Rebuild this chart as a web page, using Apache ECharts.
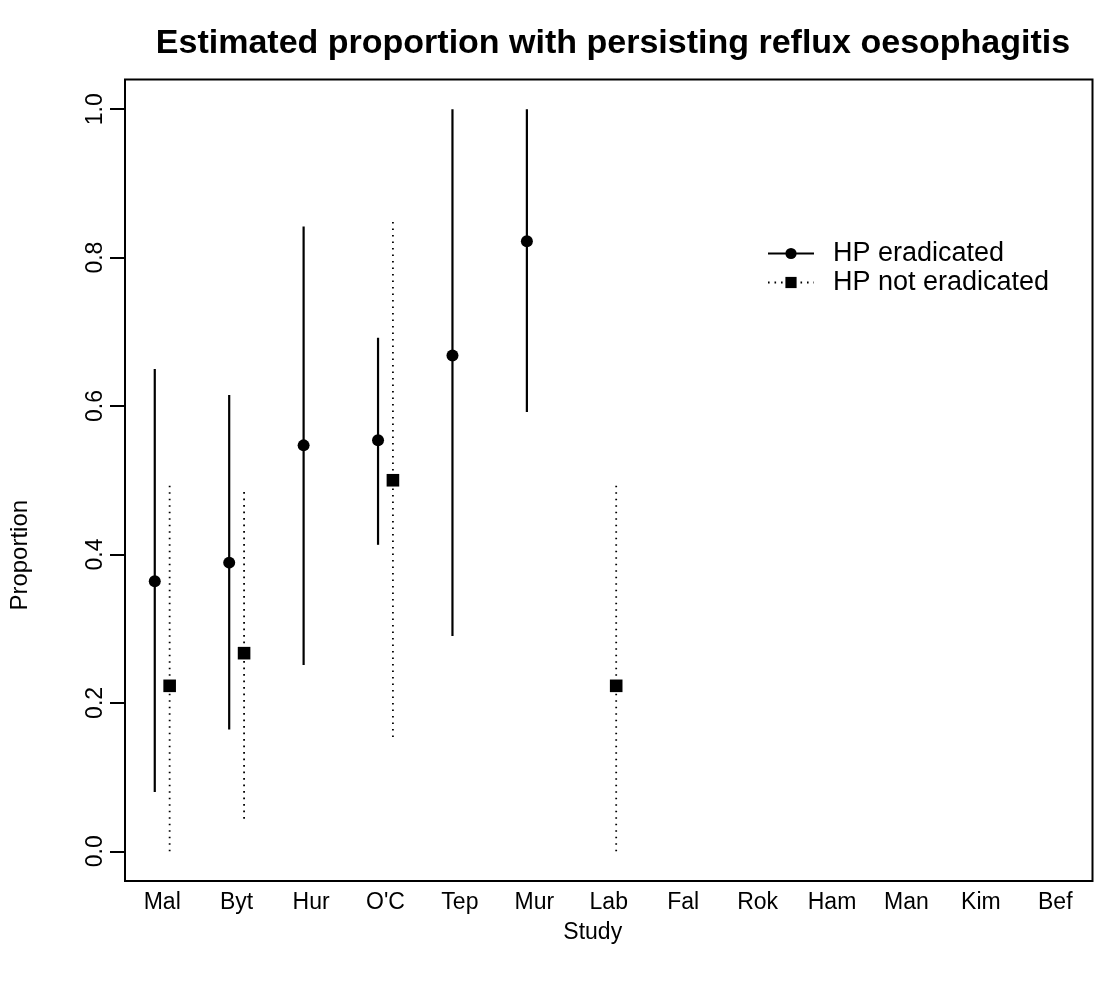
<!DOCTYPE html>
<html>
<head>
<meta charset="utf-8">
<script src="https://cdn.jsdelivr.net/npm/echarts@6/dist/echarts.min.js"></script>
<style>
html,body{margin:0;padding:0;background:#fff;}
#chart{width:1097px;height:1005px;}
</style>
</head>
<body>
<div id="chart"></div>
<script>
const studies = ['Mal','Byt','Hur',"O'C",'Tep','Mur','Lab','Fal','Rok','Ham','Man','Kim','Bef'];
// HP eradicated: estimate, lower, upper
const eradMid = [0.364, 0.389, 0.547, 0.554, 0.668, 0.822, null, null, null, null, null, null, null];
const eradLow = [0.080, 0.164, 0.251, 0.413, 0.290, 0.592, null, null, null, null, null, null, null];
const eradHigh = [0.650, 0.615, 0.842, 0.692, 1.000, 1.000, null, null, null, null, null, null, null];
// HP not eradicated: estimate, lower, upper
const notMid = [0.223, 0.267, null, 0.500, null, null, 0.223, null, null, null, null, null, null];
const notLow = [0.000, 0.044, null, 0.154, null, null, 0.000, null, null, null, null, null, null];
const notHigh = [0.495, 0.487, null, 0.848, null, null, 0.494, null, null, null, null, null, null];
const yTicks = [0, 0.2, 0.4, 0.6, 0.8, 1.0];

function build(mid, lo, hi) {
  const out = [];
  for (let i = 0; i < studies.length; i++) {
    if (mid[i] != null) out.push([i, mid[i], lo[i], hi[i]]);
  }
  return out;
}

function makeRender(side, kind) {
  return function (params, api) {
    const x = api.value(0);
    const pm = api.coord([x, api.value(1)]);
    const pl = api.coord([x, api.value(2)]);
    const ph = api.coord([x, api.value(3)]);
    const bw = api.size([1, 0])[0];
    const dx = side * bw * 0.1;
    const cx = pm[0] + dx;
    const children = [];
    if (kind === 'circle') {
      children.push({type: 'line', shape: {x1: cx, y1: pl[1], x2: cx, y2: ph[1]},
        style: {stroke: '#000', lineWidth: 2.2}});
      children.push({type: 'circle', shape: {cx: cx, cy: pm[1], r: 6}, style: {fill: '#000'}});
    } else {
      children.push({type: 'line', shape: {x1: cx, y1: pl[1], x2: cx, y2: ph[1]},
        style: {stroke: '#000', lineWidth: 1.8, lineDash: [1.6, 4.9]}});
      children.push({type: 'rect', shape: {x: cx - 6.3, y: pm[1] - 6.3, width: 12.6, height: 12.6}, style: {fill: '#000'}});
    }
    return {type: 'group', children: children};
  };
}

const chart = echarts.init(document.getElementById('chart'), null, {renderer: 'canvas'});
const font = 'Liberation Sans, Arial, Helvetica, sans-serif';
chart.setOption({
  animation: false,
  backgroundColor: '#fff',
  textStyle: {fontFamily: font, color: '#000'},
  title: {
    text: 'Estimated proportion with persisting reflux oesophagitis',
    left: 608, top: 22, textAlign: 'center',
    textStyle: {fontFamily: font, fontWeight: 'bold', fontSize: 34, color: '#000'}
  },
  grid: {left: 125, right: 4.5, top: 79.5, bottom: 124, show: true, borderColor: '#000', borderWidth: 2, containLabel: false},
  legend: {
    left: 762, top: 235, orient: 'vertical', itemWidth: 46, itemHeight: 14, itemGap: 2,
    textStyle: {fontFamily: font, fontSize: 27, color: '#000', padding: [0, 0, 0, 14]},
    data: ['HP eradicated', 'HP not eradicated']
  },
  xAxis: {
    type: 'category', data: studies, boundaryGap: true,
    name: 'Study', nameLocation: 'middle', nameGap: 40,
    nameTextStyle: {fontFamily: font, fontSize: 23, color: '#000', padding: [0, 32, 0, 0]},
    axisLine: {show: false}, axisTick: {show: false},
    axisLabel: {fontFamily: font, fontSize: 23, color: '#000', margin: 10},
    splitLine: {show: false}
  },
  yAxis: {
    type: 'value', min: -0.04, max: 1.04,
    name: 'Proportion', nameLocation: 'middle', nameGap: 93, nameRotate: 90,
    nameTextStyle: {fontFamily: font, fontSize: 24, color: '#000', padding: [0, 150, 0, 0]},
    axisLine: {show: false},
    axisTick: {show: true, length: 15, customValues: yTicks, lineStyle: {color: '#000', width: 2}},
    axisLabel: {fontFamily: font, fontSize: 23, color: '#000', rotate: 90, margin: 18,
      customValues: yTicks, formatter: v => v.toFixed(1)},
    splitLine: {show: false}
  },
  series: [
    {name: 'HP eradicated', type: 'line', data: [], symbol: 'circle', symbolSize: 12,
      itemStyle: {color: '#000'}, lineStyle: {color: '#000', width: 2.2, type: 'solid'}},
    {name: 'HP not eradicated', type: 'line', data: [], symbol: 'rect', symbolSize: 12,
      itemStyle: {color: '#000'}, lineStyle: {color: '#000', width: 1.8, type: [1.6, 4.9]}},
    {name: 'eradBars', type: 'custom', data: build(eradMid, eradLow, eradHigh),
      encode: {x: 0, y: [1, 2, 3]}, renderItem: makeRender(-1, 'circle'), silent: true},
    {name: 'notBars', type: 'custom', data: build(notMid, notLow, notHigh),
      encode: {x: 0, y: [1, 2, 3]}, renderItem: makeRender(1, 'rect'), silent: true}
  ]
});
</script>
</body>
</html>
